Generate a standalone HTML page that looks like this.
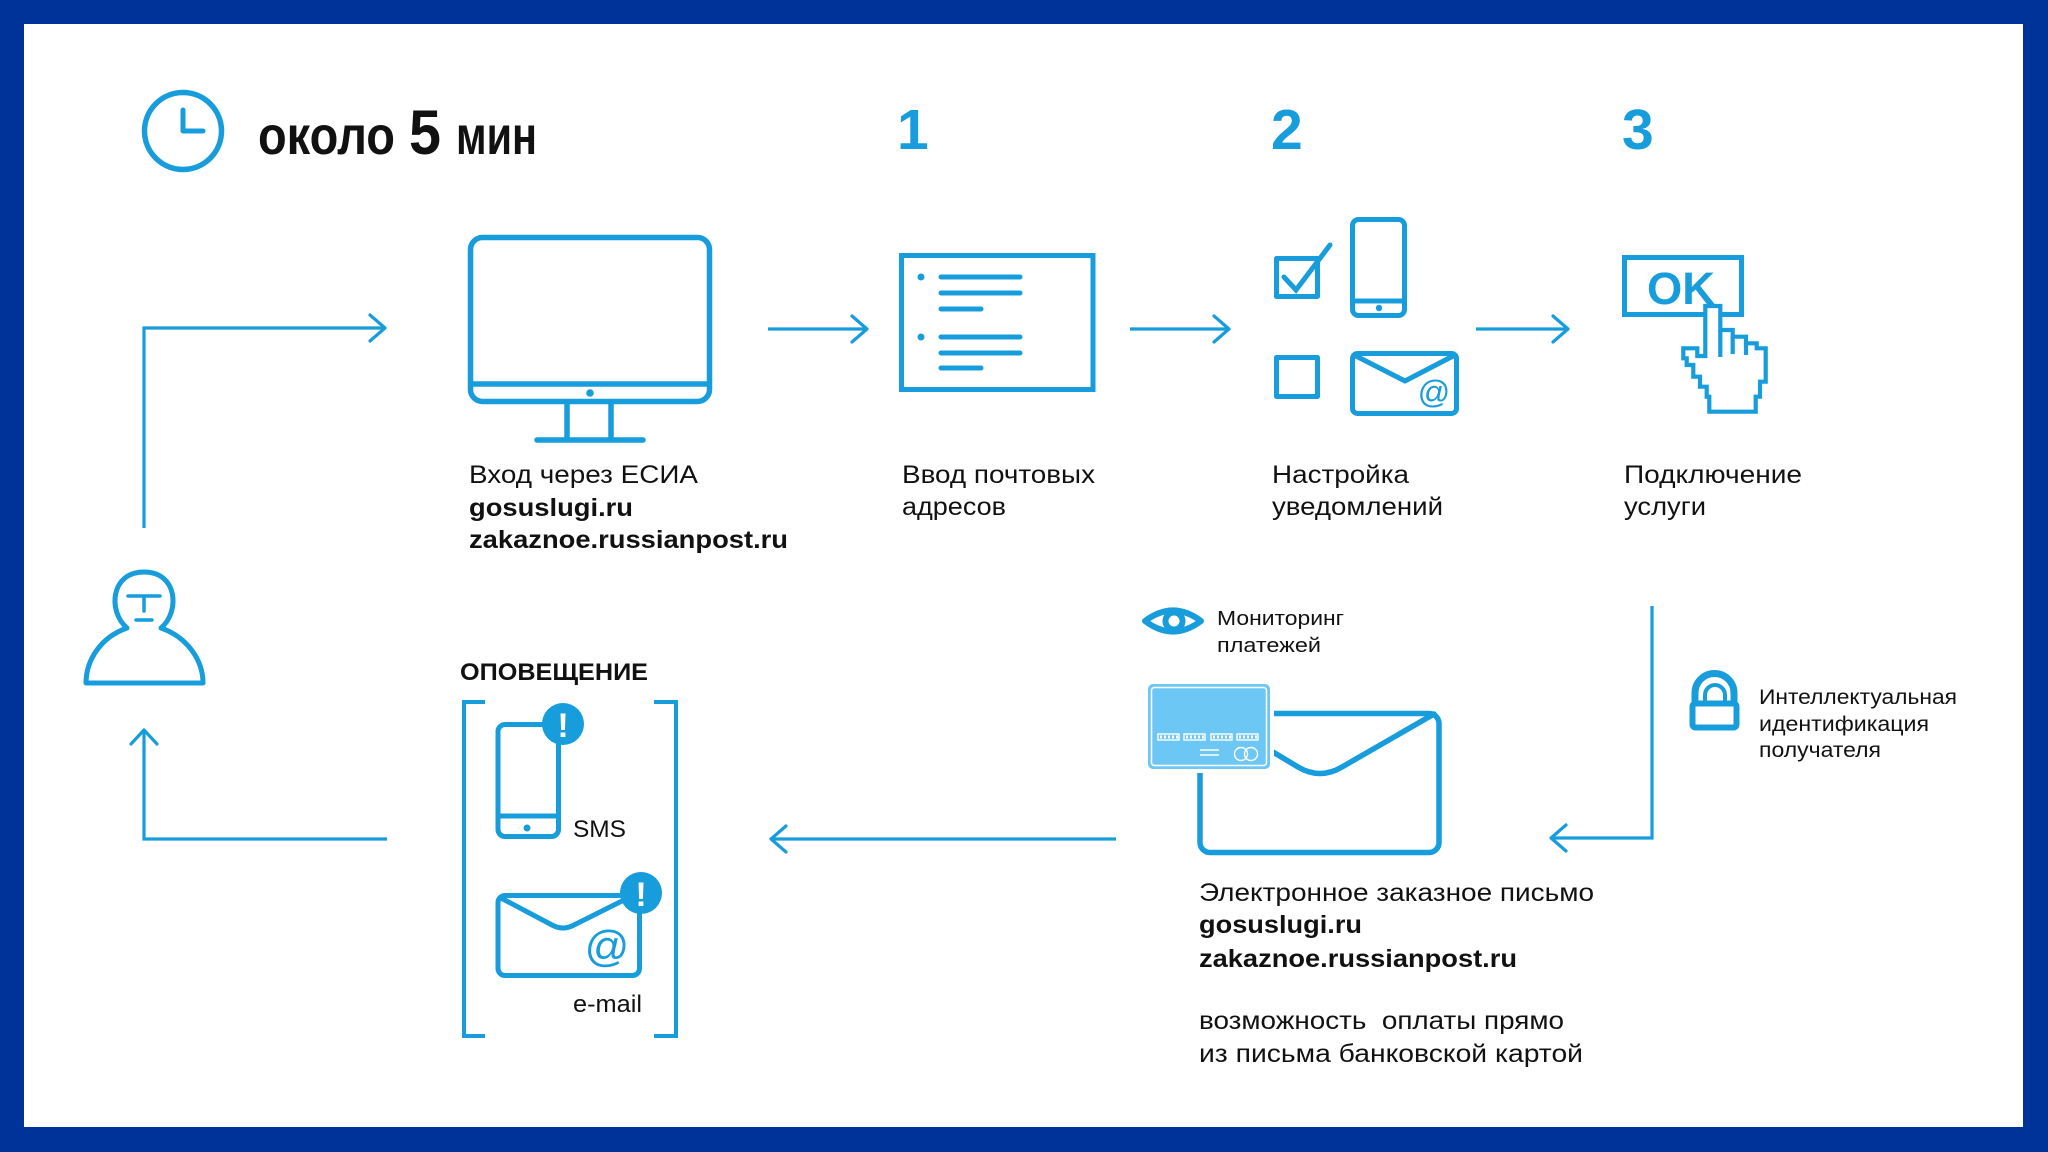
<!DOCTYPE html>
<html><head><meta charset="utf-8"><style>
html,body{margin:0;padding:0;background:#fff;}
body{width:2048px;height:1152px;overflow:hidden;}
svg{display:block;}
text{font-family:"Liberation Sans","Noto Sans CJK SC",Arial,sans-serif;fill:#111;}
.b{font-weight:bold;}
.bl{fill:#179cdc;}
</style></head><body>
<svg width="2048" height="1152" viewBox="0 0 2048 1152" xmlns="http://www.w3.org/2000/svg">
<rect width="2048" height="1152" fill="#003399"/>
<rect x="24" y="24" width="1999" height="1103" fill="#fff"/>

<g fill="none" stroke="#179cdc" stroke-width="5" stroke-linecap="round" stroke-linejoin="round">
  <!-- clock -->
  <circle cx="183" cy="131" r="38.5" stroke-width="5.5"/>
  <path d="M183,110 V131 H203"/>
</g>

<text x="258" y="154" font-size="54" class="b" textLength="137" lengthAdjust="spacingAndGlyphs">около</text>
<text x="409" y="154" font-size="63" class="b" textLength="32" lengthAdjust="spacingAndGlyphs">5</text>
<text x="456" y="154" font-size="54" class="b" textLength="81" lengthAdjust="spacingAndGlyphs">мин</text>

<text x="897" y="149" font-size="57" class="b bl">1</text>
<text x="1271" y="149" font-size="57" class="b bl">2</text>
<text x="1622" y="149" font-size="57" class="b bl">3</text>

<!-- connectors -->
<g fill="none" stroke="#179cdc" stroke-width="3.2" stroke-linejoin="miter">
  <path d="M144,528 V328 H384"/>
  <path d="M370,315 L385,328 L370,341" stroke-linecap="round" stroke-linejoin="round"/>
  <path d="M768,329 H866"/>
  <path d="M852,316 L867,329 L852,342" stroke-linecap="round" stroke-linejoin="round"/>
  <path d="M1130,329 H1228"/>
  <path d="M1214,316 L1229,329 L1214,342" stroke-linecap="round" stroke-linejoin="round"/>
  <path d="M1476,329 H1567"/>
  <path d="M1553,316 L1568,329 L1553,342" stroke-linecap="round" stroke-linejoin="round"/>
  <path d="M1652,606 V838 H1552"/>
  <path d="M1566,825 L1551,838 L1566,851" stroke-linecap="round" stroke-linejoin="round"/>
  <path d="M1116,839 H772"/>
  <path d="M786,826 L771,839 L786,852" stroke-linecap="round" stroke-linejoin="round"/>
  <path d="M387,839 H144 V731"/>
  <path d="M131,744 L144,730 L157,744" stroke-linecap="round" stroke-linejoin="round"/>
</g>

<g fill="none" stroke="#179cdc" stroke-width="5.5" stroke-linecap="round" stroke-linejoin="round">
  <!-- monitor -->
  <rect x="470.5" y="237.5" width="239" height="164" rx="12"/>
  <path d="M471,384 H709"/>
  <path d="M567,404 V440 M611,404 V440 M537,440 H643"/>
</g>
<circle cx="590" cy="393" r="3.8" fill="#179cdc"/>

<!-- document -->
<g fill="none" stroke="#179cdc" stroke-width="5" stroke-linecap="round">
  <rect x="901.5" y="255.5" width="191.5" height="134" stroke-linecap="butt"/>
  <path d="M941,277 H1020 M941,293 H1020 M941,309 H981 M941,337 H1020 M941,353 H1020 M941,368 H981"/>
</g>
<circle cx="921" cy="277" r="3.5" fill="#179cdc"/>
<circle cx="921" cy="337" r="3.5" fill="#179cdc"/>

<!-- settings icon -->
<g fill="none" stroke="#179cdc" stroke-width="5" stroke-linejoin="round">
  <rect x="1276.5" y="258.5" width="41" height="38"/>
  <path d="M1284,277 L1296,290 L1330,245" stroke-linecap="round" stroke-linejoin="miter"/>
  <rect x="1352.5" y="219.5" width="52" height="96" rx="6"/>
  <path d="M1353,301 H1404"/>
  <rect x="1276.5" y="357.5" width="41" height="39"/>
  <rect x="1352.5" y="353.5" width="104" height="60" rx="5"/>
  <path d="M1354,355 L1405,381 L1455,355" stroke-linecap="round"/>
</g>
<circle cx="1379" cy="308" r="3.2" fill="#179cdc"/>
<text x="1434" y="403" font-size="32" class="bl" text-anchor="middle">@</text>

<!-- OK button + hand -->
<rect x="1624.5" y="257.5" width="117" height="57" fill="none" stroke="#179cdc" stroke-width="5"/>
<text x="1647" y="304" font-size="45" class="b bl" textLength="68" lengthAdjust="spacingAndGlyphs">OK</text>
<path d="M1705.3,306 L1720.3,306 L1720.3,330 L1732.7,330 L1732.7,336.7 L1746,336.7 L1746,343.3 L1756.7,343.3 L1756.7,348.3 L1765.7,348.3 L1765.7,381.7 L1760,381.7 L1760,396.7 L1755.7,396.7 L1755.7,411.7 L1709.3,411.7 L1709.3,396.7 L1706.7,396.7 L1706.7,386.7 L1700,386.7 L1700,376.7 L1693.3,376.7 L1693.3,365 L1686.7,365 L1686.7,358.3 L1683.3,358.3 L1683.3,348.3 L1697.3,348.3 L1697.3,356 L1705.3,356 Z" fill="#fff" stroke="#179cdc" stroke-width="4.2" stroke-linejoin="miter"/>
<path d="M1720.3,330 V357 M1732.7,336.7 V354 M1746,343.3 V355" fill="none" stroke="#179cdc" stroke-width="4.2"/>

<!-- step labels -->
<text x="469" y="483" font-size="25" textLength="229" lengthAdjust="spacingAndGlyphs">Вход через ЕСИА</text>
<text x="469" y="516" font-size="25" class="b" textLength="164" lengthAdjust="spacingAndGlyphs">gosuslugi.ru</text>
<text x="469" y="548" font-size="25" class="b" textLength="319" lengthAdjust="spacingAndGlyphs">zakaznoe.russianpost.ru</text>
<text x="902" y="483" font-size="25" textLength="193" lengthAdjust="spacingAndGlyphs">Ввод почтовых</text>
<text x="902" y="515" font-size="25" textLength="104" lengthAdjust="spacingAndGlyphs">адресов</text>
<text x="1272" y="483" font-size="25" textLength="137" lengthAdjust="spacingAndGlyphs">Настройка</text>
<text x="1272" y="515" font-size="25" textLength="171" lengthAdjust="spacingAndGlyphs">уведомлений</text>
<text x="1624" y="483" font-size="25" textLength="178" lengthAdjust="spacingAndGlyphs">Подключение</text>
<text x="1624" y="515" font-size="25" textLength="82" lengthAdjust="spacingAndGlyphs">услуги</text>

<!-- person -->
<g fill="none" stroke="#179cdc" stroke-width="5" stroke-linejoin="round" stroke-linecap="round">
  <path d="M127,628 C108,612 110,572 144,572 C178,572 180,612 161,628 C187,637 203,660 203,683 L86,683 C86,660 101,637 127,628 Z"/>
  <path d="M128,596 H160 M144,596 V611 M136,620 H152" stroke-width="3.5"/>
</g>

<!-- notification block -->
<text x="460" y="680" font-size="24" class="b" textLength="188" lengthAdjust="spacingAndGlyphs">ОПОВЕЩЕНИЕ</text>
<g fill="none" stroke="#179cdc" stroke-width="4">
  <path d="M485,702 H464 V1036 H485"/>
  <path d="M654,702 H676 V1036 H654"/>
</g>
<g fill="none" stroke="#179cdc" stroke-width="5" stroke-linejoin="round" stroke-linecap="round">
  <rect x="498" y="724.5" width="60.5" height="112" rx="7"/>
  <path d="M499,816 H557"/>
  <rect x="498" y="895.5" width="141.5" height="80" rx="7"/>
  <path d="M501,898 L552,925 Q563,931 574,925 L636,894"/>
</g>
<circle cx="527" cy="828" r="3.5" fill="#179cdc"/>
<text x="607" y="961" font-size="44" class="bl" text-anchor="middle">@</text>
<circle cx="563" cy="724" r="21" fill="#179cdc"/>
<text x="563" y="737" font-size="34" class="b" fill="#fff" style="fill:#fff" text-anchor="middle">!</text>
<circle cx="641" cy="893" r="21" fill="#179cdc"/>
<text x="641" y="906" font-size="34" class="b" style="fill:#fff" text-anchor="middle">!</text>
<text x="573" y="837" font-size="24" textLength="53" lengthAdjust="spacingAndGlyphs">SMS</text>
<text x="573" y="1012" font-size="24" textLength="69" lengthAdjust="spacingAndGlyphs">e-mail</text>

<!-- eye -->
<path d="M1145,621 Q1173,600 1201,621 Q1173,642 1145,621 Z" fill="#fff" stroke="#179cdc" stroke-width="6" stroke-linejoin="round"/>
<circle cx="1174" cy="621" r="8.5" fill="#fff" stroke="#179cdc" stroke-width="6"/>
<text x="1217" y="625" font-size="20" textLength="127" lengthAdjust="spacingAndGlyphs">Мониторинг</text>
<text x="1217" y="652" font-size="20" textLength="104" lengthAdjust="spacingAndGlyphs">платежей</text>

<!-- big envelope -->
<g fill="none" stroke="#179cdc" stroke-width="5.5" stroke-linejoin="round" stroke-linecap="round">
  <rect x="1200" y="713.5" width="239" height="139" rx="10"/>
  <path d="M1273,752 L1298,767 Q1320,780 1342,767 L1434,714"/>
</g>
<!-- card -->
<rect x="1144" y="680" width="130" height="93" rx="8" fill="#fff"/>
<rect x="1148" y="684" width="122" height="85" rx="5" fill="#6cc7f5"/>
<rect x="1151.5" y="687.5" width="115" height="78" rx="3" fill="none" stroke="#fff" stroke-width="1.5"/>
<g fill="none" stroke="#fff" stroke-width="1.4">
  <rect x="1158" y="734" width="21" height="6"/>
  <rect x="1184" y="734" width="21" height="6"/>
  <rect x="1211" y="734" width="21" height="6"/>
  <rect x="1237" y="734" width="21" height="6"/>
  <path d="M1200,750 H1219 M1200,755 H1219"/>
  <circle cx="1241" cy="754" r="6.5"/>
  <circle cx="1251" cy="754" r="6.5"/>
</g>
<g stroke="#fff" stroke-width="3" stroke-dasharray="2,2">
  <path d="M1160,737 H1178 M1186,737 H1204 M1213,737 H1231 M1239,737 H1257"/>
</g>

<!-- lock -->
<g fill="none" stroke="#179cdc" stroke-linejoin="round">
  <path d="M1695,702 V693 A19.5,19.5 0 0 1 1734,693 V702" stroke-width="7"/>
  <path d="M1705,702 V695 A10,10 0 0 1 1725,695 V702" stroke-width="4"/>
  <rect x="1692.5" y="703.5" width="44" height="24" rx="3" stroke-width="6" fill="#fff"/>
</g>
<text x="1759" y="704" font-size="21" textLength="198" lengthAdjust="spacingAndGlyphs">Интеллектуальная</text>
<text x="1759" y="731" font-size="21" textLength="170" lengthAdjust="spacingAndGlyphs">идентификация</text>
<text x="1759" y="757" font-size="21" textLength="122" lengthAdjust="spacingAndGlyphs">получателя</text>

<!-- bottom text -->
<text x="1199" y="901" font-size="25" textLength="395" lengthAdjust="spacingAndGlyphs">Электронное заказное письмо</text>
<text x="1199" y="933" font-size="25" class="b" textLength="163" lengthAdjust="spacingAndGlyphs">gosuslugi.ru</text>
<text x="1199" y="967" font-size="25" class="b" textLength="318" lengthAdjust="spacingAndGlyphs">zakaznoe.russianpost.ru</text>
<text x="1199" y="1029" font-size="25" textLength="365" lengthAdjust="spacingAndGlyphs" style="white-space:pre">возможность  оплаты прямо</text>
<text x="1199" y="1062" font-size="25" textLength="384" lengthAdjust="spacingAndGlyphs">из письма банковской картой</text>
</svg>
</body></html>
